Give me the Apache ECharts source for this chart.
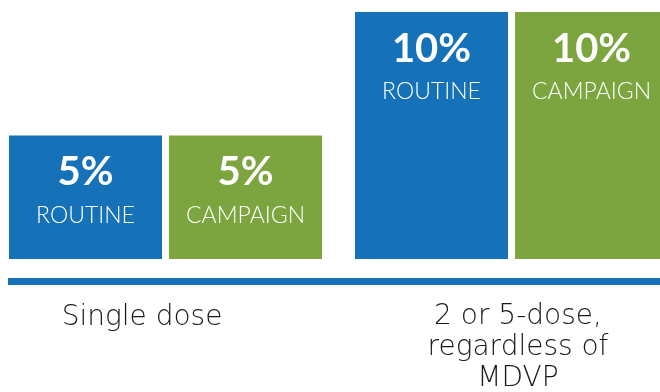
<!DOCTYPE html>
<html>
<head>
<meta charset="utf-8">
<script src="https://cdn.jsdelivr.net/npm/echarts@6/dist/echarts.min.js"></script>
<style>
  html, body { margin: 0; padding: 0; background: #fff; }
  #chart { width: 660px; height: 392px; }
</style>
</head>
<body>
<div id="chart"></div>
<script>
// Dose groups and the wastage rate for each delivery strategy
const categories = ['Single dose', '2 or 5-dose,\nregardless of\nMDVP'];
const routine = [5, 10];
const campaign = [5, 10];
const seriesNames = ['ROUTINE', 'CAMPAIGN'];

const BLUE = '#1571b8';
const GREEN = '#7ca53f';
const FONT = 'Lato, "Open Sans", sans-serif';
const THIN = '"DejaVu Sans ExtraLight", "DejaVu Sans", sans-serif';

const chart = echarts.init(document.getElementById('chart'), null, { renderer: 'canvas' });

// value label inside each bar: big percentage + strategy name
const barLabel = {
  show: true,
  position: 'insideTop',
  distance: 11,
  formatter: '{v|{c}%}\n{n|{a}}',
  rich: {
    v: { fontFamily: FONT, fontSize: 40, fontWeight: 'bold', color: '#fff', lineHeight: 52 },
    n: { fontFamily: FONT, fontSize: 23, fontWeight: 300, color: '#fff', lineHeight: 34 }
  }
};

const catStyle = { fontFamily: THIN, fontWeight: 200, fontSize: 28, color: '#1a1a1a' };

chart.setOption({
  animation: false,
  grid: [
    { left: -7.5, top: 12, width: 692, height: 247, outerBoundsMode: 'none', containLabel: false },
    { left: 8, right: 0, top: 12, height: 247, outerBoundsMode: 'none', containLabel: false }
  ],
  xAxis: [
    {
      type: 'category',
      gridIndex: 0,
      data: categories,
      axisLine: { show: false },
      axisTick: { show: false },
      axisLabel: {
        margin: 42,
        interval: 0,
        formatter: function (value, idx) {
          const lines = value.split('\n');
          if (idx === 0) return lines.map(l => '{a|' + l + '}').join('\n');
          return lines.map(l => '{b|' + l + '}').join('\n');
        },
        rich: {
          a: Object.assign({}, catStyle, { lineHeight: 34, padding: [0, 47, 0, 0] }),
          b: Object.assign({}, catStyle, { lineHeight: 31, padding: [0, 0, 0, 13] })
        }
      }
    },
    {
      // baseline rule under both groups
      type: 'value',
      gridIndex: 1,
      min: 0,
      max: 1,
      offset: 22,
      axisLine: { show: true, onZero: false, lineStyle: { color: BLUE, width: 7, cap: 'butt' } },
      axisTick: { show: false },
      axisLabel: { show: false },
      splitLine: { show: false }
    }
  ],
  yAxis: [
    { type: 'value', gridIndex: 0, min: 0, max: 10, show: false, splitLine: { show: false } },
    { type: 'value', gridIndex: 1, min: 0, max: 1, show: false, splitLine: { show: false } }
  ],
  series: [
    {
      name: seriesNames[0],
      type: 'bar',
      xAxisIndex: 0,
      yAxisIndex: 0,
      data: routine,
      barWidth: 153,
      barGap: '4.6%',
      itemStyle: { color: BLUE },
      label: barLabel
    },
    {
      name: seriesNames[1],
      type: 'bar',
      xAxisIndex: 0,
      yAxisIndex: 0,
      data: campaign,
      barWidth: 153,
      barGap: '4.6%',
      itemStyle: { color: GREEN },
      label: barLabel
    }
  ]
});
</script>
</body>
</html>
